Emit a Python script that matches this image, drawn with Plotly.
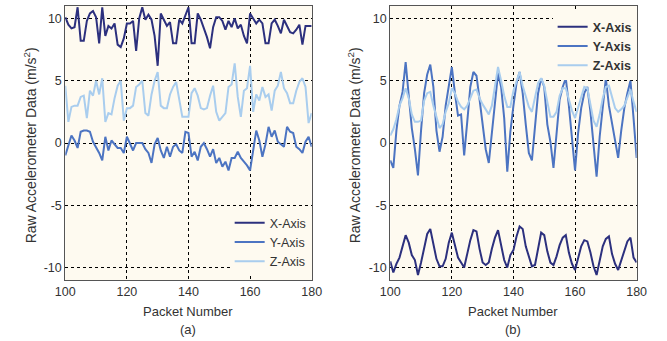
import plotly.graph_objects as go

packets = list(range(100, 181))

x_axis_a = [10.1, 9.5, 9.2, 9.3, 10.9, 8.2, 8.2, 9.8, 10.4, 10.6,
            10.1, 8.0, 10.9, 8.6, 9.4, 9.2, 9.6, 7.9, 7.7, 8.4,
            9.6, 9.6, 9.8, 7.4, 10.0, 10.9, 9.9, 10.3, 9.9, 8.6,
            6.2, 10.4, 9.9, 9.4, 9.7, 8.0, 8.0, 9.9, 9.6, 10.3,
            10.9, 8.0, 8.0, 10.4, 9.9, 9.2, 8.5, 7.6, 9.3, 10.1,
            10.1, 9.8, 9.1, 9.8, 9.3, 10.0, 9.2, 9.5, 8.6, 8.0,
            10.4, 10.0, 9.6, 9.9, 9.6, 8.0, 8.0, 9.6, 9.9, 9.4,
            8.8, 9.9, 9.4, 8.9, 8.8, 9.1, 9.5, 7.9, 9.4, 9.4, 9.4]
y_axis_a = [-1.0, -0.2, 0.6, 0.2, -0.4, 0.9, 1.0, 1.0, 0.9, 0.1,
            -0.3, -0.8, -1.4, 0.5, -0.6, 0.2, -0.1, -0.4, -0.4, -0.8,
            0.5, -0.1, -0.6, 0.0, 0.0, 0.0, -0.5, -0.8, -1.6, -0.1,
            0.4, -0.6, -1.2, -0.3, -1.1, -0.3, -0.1, -0.6, -0.8, 0.9,
            0.8, -1.1, -0.7, -1.4, -0.3, 0.0, -0.5, -1.1, -0.5, -1.6,
            -1.2, -1.9, -1.5, -2.2, -1.2, -1.2, -0.7, -1.2, -1.5, -1.8,
            -2.2, -0.6, 1.0, 0.2, -1.1, -0.1, 1.3, 0.5, 1.0, 0.1,
            -0.1, -0.3, 1.3, 0.9, 0.8, -0.3, -0.5, -0.8, 0.1, 0.5, -0.3]
z_axis_a = [4.6, 1.7, 2.9, 3.0, 3.0, 3.7, 3.8, 2.0, 4.2, 3.8,
            5.0, 3.9, 5.2, 1.7, 2.4, 2.3, 3.6, 4.6, 5.0, 1.8,
            2.8, 2.8, 3.0, 4.5, 4.7, 5.0, 2.4, 2.2, 3.9, 5.0,
            5.7, 3.0, 2.8, 2.8, 3.9, 4.5, 4.9, 3.4, 2.1, 2.1,
            2.1, 4.0, 4.4, 3.8, 2.8, 2.7, 2.8, 3.8, 4.6, 2.5,
            1.8, 2.1, 2.4, 4.5, 4.7, 6.4, 3.7, 2.1, 4.2, 4.4,
            6.2, 2.5, 3.9, 3.4, 4.5, 3.7, 3.9, 2.6, 4.2, 4.6,
            5.7, 4.4, 4.0, 3.2, 3.2, 4.2, 4.9, 5.2, 4.5, 1.6, 2.4]

x_axis_b = [-9.5, -10.4, -9.7, -9.2, -8.3, -7.4, -8.0, -9.0, -9.4, -10.6,
            -9.6, -8.3, -7.3, -6.9, -8.2, -9.3, -9.9, -9.9, -9.3, -8.0,
            -7.2, -8.3, -9.2, -9.6, -10.0, -8.9, -7.8, -7.0, -7.1, -8.5,
            -9.6, -9.8, -9.6, -8.5, -7.6, -7.0, -8.2, -9.4, -10.0, -9.0,
            -8.6, -7.5, -6.7, -6.9, -8.3, -9.2, -9.9, -9.8, -8.4, -7.2,
            -7.4, -8.7, -9.6, -9.8, -9.1, -8.2, -7.6, -7.4, -8.8, -9.7,
            -10.2, -9.2, -8.3, -7.8, -7.9, -8.8, -9.9, -10.6, -9.4, -8.3,
            -7.7, -7.5, -8.9, -9.7, -10.2, -9.4, -8.6, -7.9, -7.6, -9.2, -9.6]
y_axis_b = [-1.4, -2.0, 1.0, 3.0, 4.1, 6.5, 3.8, 1.2, -0.5, -2.6,
            1.0, 4.0, 5.5, 6.3, 4.5, 1.0, -0.7, 0.5, 3.0, 4.5,
            6.1, 4.0, 2.2, 2.3, -1.0, 1.7, 4.5, 5.7, 5.4, 3.5,
            1.5, -0.5, -1.6, 1.0, 3.5, 5.6, 4.5, 2.0, -2.3, 0.9,
            3.0, 4.8, 5.7, 4.0, 1.5, -0.8, -1.4, 1.2, 4.0, 5.2,
            4.5, 1.5, 0.1, -2.0, 1.0, 3.5, 4.5, 5.2, 3.0, 0.5,
            -2.2, 0.8, 2.8, 4.0, 4.5, 2.5, 0.0, -2.7, 0.5, 3.0,
            5.2, 3.0, 1.5, 0.0, -1.2, 1.0, 2.8, 4.0, 5.0, 2.0, -1.2]
z_axis_b = [0.6, 1.1, 1.9, 3.0, 3.6, 4.4, 3.6, 2.3, 1.7, 1.7,
            1.8, 3.4, 4.0, 4.1, 3.0, 2.0, 1.2, 1.5, 2.5, 3.2,
            4.4, 4.0, 3.3, 2.9, 2.7, 3.0, 3.6, 4.2, 4.3, 3.6,
            3.1, 2.7, 2.3, 3.0, 4.5, 6.1, 5.0, 3.8, 2.9, 2.9,
            4.2, 5.0, 5.7, 4.6, 3.8, 2.9, 2.5, 3.8, 4.8, 5.2,
            4.6, 3.3, 2.1, 2.1, 2.5, 3.8, 4.4, 4.4, 3.5, 2.6,
            2.0, 2.8, 3.8, 4.5, 4.4, 3.0, 1.8, 1.3, 2.3, 3.6,
            4.5, 4.6, 3.6, 2.8, 2.5, 2.7, 3.0, 3.6, 4.3, 3.3, 2.5]

series_names = ["X-Axis", "Y-Axis", "Z-Axis"]
colors = ["#2C307E", "#4C74C2", "#A9CDEE"]
x_ticks = [100, 120, 140, 160, 180]
x_tick_labels = ["100", "120", "140", "160", "180"]
y_ticks = [-10, -5, 0, 5, 10]
y_tick_labels = ["-10", "-5", "0", "5", "10"]

BG = "#FEFAF0"
TXT = "#333333"
FONT = "Liberation Sans, Arial, sans-serif"

fig = go.Figure()
for name, vals, col in zip(series_names, [x_axis_a, y_axis_a, z_axis_a], colors):
    fig.add_trace(go.Scatter(x=packets, y=vals, mode="lines", name=name,
                             line=dict(color=col, width=2), xaxis="x", yaxis="y",
                             legend="legend"))
for name, vals, col in zip(series_names, [x_axis_b, y_axis_b, z_axis_b], colors):
    fig.add_trace(go.Scatter(x=packets, y=vals, mode="lines", name=name,
                             line=dict(color=col, width=2), xaxis="x2", yaxis="y2",
                             legend="legend2"))

W, H = 667, 341
ydom = [1 - 280 / H, 1 - 6 / H]
common_x = dict(range=[100, 180], tickvals=x_ticks, ticktext=x_tick_labels,
                showgrid=True, gridcolor="#000000",
                griddash="3px,3px", gridwidth=1, showline=True, mirror=True,
                linecolor="#555555", linewidth=1, zeroline=False, ticks="",
                tickfont=dict(size=12.5, color=TXT, family=FONT))
common_y = dict(range=[-11, 11], tickvals=y_ticks, ticktext=y_tick_labels,
                showgrid=True, gridcolor="#000000",
                griddash="3px,3px", gridwidth=1, showline=True, mirror=True,
                linecolor="#555555", linewidth=1, zeroline=False, ticks="",
                tickfont=dict(size=12.5, color=TXT, family=FONT))

fig.update_layout(
    width=W, height=H, margin=dict(l=0, r=0, t=0, b=0),
    paper_bgcolor="white", plot_bgcolor=BG,
    font=dict(family=FONT, color=TXT, size=12),
    xaxis=dict(domain=[57 / W, 311 / W], anchor="y", **common_x),
    yaxis=dict(domain=ydom, anchor="x", **common_y),
    xaxis2=dict(domain=[392 / W, 646 / W], anchor="y2", **common_x),
    yaxis2=dict(domain=ydom, anchor="x2", **common_y),
    legend=dict(x=311 / W, y=1 - 276 / H, xanchor="right", yanchor="bottom",
                bgcolor=BG, borderwidth=0, font=dict(size=12.5, color=TXT, family=FONT),
                tracegroupgap=0),
    legend2=dict(x=646 / W, y=1 - 12 / H, xanchor="right", yanchor="top",
                 bgcolor=BG, borderwidth=0,
                 font=dict(size=12.5, color=TXT, family=FONT, weight="bold"),
                 tracegroupgap=0),
    showlegend=True,
)

ylabel = "Raw Accelerometer Data (m/s<sup>2</sup>)"
for cx, lbl in [((57 + 311) / 2, "(a)"), ((392 + 646) / 2, "(b)")]:
    fig.add_annotation(x=cx / W, y=1 - 311 / H, xref="paper", yref="paper",
                       xanchor="center", yanchor="middle",
                       text="Packet Number", showarrow=False,
                       font=dict(size=13, color=TXT, family=FONT))
    fig.add_annotation(x=cx / W, y=1 - 329 / H, xref="paper", yref="paper",
                       xanchor="center", yanchor="middle",
                       text=lbl, showarrow=False,
                       font=dict(size=13, color=TXT, family=FONT))
for lx in [21, 355]:
    fig.add_annotation(x=lx / W, y=1 - 145 / H, xref="paper", yref="paper",
                       xanchor="center", yanchor="middle",
                       text=ylabel, showarrow=False, textangle=-90,
                       font=dict(size=14, color=TXT, family=FONT))

fig.write_html("out.html")
